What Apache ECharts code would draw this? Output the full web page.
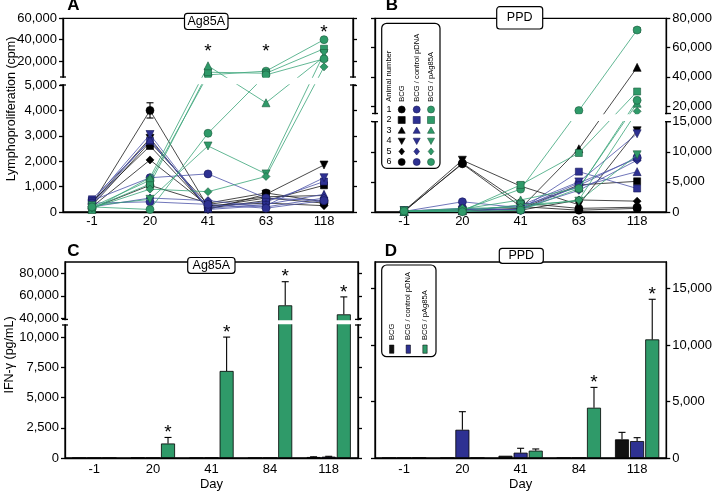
<!DOCTYPE html>
<html>
<head>
<meta charset="utf-8">
<script src="https://cdn.jsdelivr.net/npm/echarts@6.0.0/dist/echarts.min.js"></script>
<style>
html,body{margin:0;padding:0;background:#ffffff;}
#chart{width:715px;height:493px;}
</style>
</head>
<body>
<div id="chart"></div>
<script>
// ================= DATA =================
const lpDays = ['-1', '20', '41', '63', '118'];
const ifnDays = ['-1', '20', '41', '84', '118'];
const groupNames = ['BCG', 'BCG / control pDNA', 'BCG / pAg85A'];
const animalNumbers = ['1', '2', '3', '4', '5', '6'];

// Panel A – Ag85A lymphoproliferation (cpm); one row per animal, columns = lpDays
const lpAg85A_BCG = [
  [300, 4000, 200, 550, 350],
  [400, 2600, 150, 450, 1050],
  [250, 2750, 300, 600, 650],
  [350, 2900, 100, 700, 1850],
  [200, 2050, 250, 350, 250],
  [150, 1050, 350, 750, 400]
];
const lpAg85A_ctrl = [
  [450, 1350, 1500, 550, 450],
  [500, 2800, 200, 400, 1200],
  [300, 2850, 150, 300, 700],
  [400, 3050, 100, 250, 1350],
  [200, 550, 450, 200, 550],
  [350, 400, 300, 150, 450]
];
const lpAg85A_pAg = [
  [200, 1250, 7000, 10500, 40000],
  [150, 1100, 9500, 8500, 31500],
  [100, 1350, 15500, 4300, 24000],
  [250, 500, 2600, 1500, 27000],
  [150, 900, 800, 1400, 14500],
  [200, 100, 3100, 7000, 22000]
];

// Panel B – PPD lymphoproliferation (cpm)
const lpPPD_BCG = [
  [100, 8100, 1500, 600, 800],
  [150, 300, 500, 4500, 5100],
  [100, 200, 600, 10500, 46500],
  [200, 8600, 4300, 1200, 13500],
  [100, 400, 300, 2000, 1800],
  [150, 8000, 900, 300, 600]
];
const lpPPD_ctrl = [
  [100, 1700, 700, 4800, 8900],
  [150, 500, 400, 6700, 3900],
  [100, 300, 900, 4200, 6700],
  [200, 200, 1100, 5000, 13000],
  [100, 100, 500, 3600, 8600],
  [150, 600, 300, 4400, 9100]
];
const lpPPD_pAg = [
  [100, 300, 3800, 17000, 72000],
  [150, 200, 4500, 9800, 30000],
  [100, 500, 2000, 4000, 22000],
  [200, 100, 1200, 1800, 9500],
  [100, 600, 800, 2000, 16500],
  [150, 50, 300, 3900, 24000]
];

// error bars on individual points: [group, animal, dayIndex, sd]
const lpAg85A_err = [[0, 0, 1, 300]];
const lpPPD_err = [[2, 0, 4, 1500]];

// Panel C – IFN-gamma Ag85A (pg/mL), mean and SD per group, columns = ifnDays
const ifnAg85A_BCG = [0, 30, 0, 0, 80];
const ifnAg85A_BCG_sd = [0, 0, 0, 0, 20];
const ifnAg85A_ctrl = [0, 0, 20, 0, 110];
const ifnAg85A_ctrl_sd = [0, 0, 0, 0, 30];
const ifnAg85A_pAg = [0, 1200, 7200, 51500, 43500];
const ifnAg85A_pAg_sd = [0, 500, 2800, 21000, 15500];
const ifnAg85A_star = [0, 1, 1, 1, 1]; // pAg85A significant

// Panel D – IFN-gamma PPD (pg/mL)
const ifnPPD_BCG = [0, 0, 200, 0, 1650];
const ifnPPD_BCG_sd = [0, 0, 0, 0, 620];
const ifnPPD_ctrl = [0, 2500, 470, 0, 1500];
const ifnPPD_ctrl_sd = [0, 1600, 390, 0, 300];
const ifnPPD_pAg = [20, 0, 650, 4450, 10500];
const ifnPPD_pAg_sd = [0, 0, 150, 1800, 3550];
const ifnPPD_star = [0, 0, 0, 1, 1];

// significance stars in panel A: [dayIndex, anchor value]
const lpAg85A_stars = [[2, 28400], [3, 28400], [4, 46700]];

// tick labels
const ticksA = [0, 1000, 2000, 3000, 4000, 5000, 20000, 40000, 60000];
const ticksB = [0, 5000, 10000, 15000, 20000, 40000, 60000, 80000];
const ticksC = [0, 2500, 5000, 7500, 10000, 40000, 60000, 80000];
const ticksD = [0, 5000, 10000, 15000];

// ================= STYLE / LAYOUT =================
const FONT = "'Liberation Sans', Arial, Helvetica, sans-serif";
const MARK = ['#000000', '#2e3192', '#2f9a69'];
const MARK_BORDER = ['#000000', '#15175a', '#1b5a3c'];
const LINE = ['#1a1a1a', '#4b53a8', '#3aa578'];
const BAR = ['#111111', '#2e3192', '#2f9a69'];
const SYM = ['circle', 'rect', 'triangle', 'triangle', 'diamond', 'circle'];
const SYM_SIZE = [8, 7, 8, 8, 8, 8];
const SYM_ROT = [0, 0, 0, 180, 0, 0];

const gA = {left: 63, top: 18.3, width: 290, height: 193.7};
const gB = {left: 375, top: 18.3, width: 293, height: 193.7};
const gC = {left: 65, top: 262, width: 293, height: 196};
const gD = {left: 375, top: 262, width: 297, height: 196};

// piecewise (broken) axis transform, in pixel units
function brk(lowMax, lowPx, gapPx, upMin, upMax, upPx) {
  const f = v => v <= lowMax ? v / lowMax * lowPx : lowPx + gapPx + (v - upMin) / (upMax - upMin) * upPx;
  f.lowPx = lowPx; f.gapPx = gapPx; f.total = lowPx + gapPx + upPx;
  return f;
}
const sA = brk(5000, 127, 8, 5000, 60000, 58.7);
const sB = brk(15000, 90.3, 8.2, 15000, 80000, 95.2);
const sC = brk(11000, 133, 5.6, 39000, 90000, 57.4);
const sD = v => v; sD.total = 17350;

function yPair(gridIndex, f, ticks, labelSide) {
  const vals = ticks.map(f);
  const lab = {};
  ticks.forEach((t, i) => { lab[vals[i].toFixed(2)] = t.toLocaleString('en-US'); });
  return ['left', 'right'].map(pos => ({
    type: 'value', gridIndex, position: pos, min: 0, max: f.total,
    splitLine: {show: false},
    axisLine: {show: true, lineStyle: {color: '#000', width: 1.3}},
    axisTick: {show: true, length: 4, inside: false, customValues: vals.slice(), lineStyle: {color: '#000', width: 1.3}},
    axisLabel: {show: pos === labelSide, customValues: vals.slice(), margin: 6, color: '#000', fontSize: 13, fontFamily: FONT,
      formatter: v => lab[Number(v).toFixed(2)] || ''}
  }));
}
function xAx(gridIndex, cats, margin, name) {
  return {
    type: 'category', gridIndex, data: cats, boundaryGap: true,
    axisLine: {show: true, lineStyle: {color: '#000', width: 1.3}},
    axisTick: {show: false},
    axisLabel: {color: '#000', fontSize: 13, fontFamily: FONT, margin},
    name: name || '', nameLocation: 'middle', nameGap: 20,
    nameTextStyle: {color: '#000', fontSize: 13, fontFamily: FONT}
  };
}

const series = [];
function addLP(groups, xi, yi, f) {
  groups.forEach((grp, g) => grp.forEach((vals, a) => {
    series.push({
      type: 'line', xAxisIndex: xi, yAxisIndex: yi, name: groupNames[g] + ' ' + animalNumbers[a],
      data: vals.map(f), symbol: SYM[a], symbolSize: SYM_SIZE[a], symbolRotate: SYM_ROT[a],
      showAllSymbol: true, z: 3 + g,
      lineStyle: {color: LINE[g], width: 0.8},
      itemStyle: {color: MARK[g], borderColor: MARK_BORDER[g], borderWidth: 0.6},
      emphasis: {disabled: true}
    });
  }));
}
function addPointErr(groups, errs, xi, yi, f) {
  series.push({
    type: 'custom', xAxisIndex: xi, yAxisIndex: yi, z: 2,
    data: errs.map(e => { const v = groups[e[0]][e[1]][e[3 - 1]]; return [e[2], f(v - e[3]), f(v + e[3])]; }),
    renderItem: (p, api) => {
      const lo = api.coord([api.value(0), api.value(1)]);
      const hi = api.coord([api.value(0), api.value(2)]);
      const st = {stroke: '#000', lineWidth: 1.1};
      return {type: 'group', children: [
        {type: 'line', shape: {x1: lo[0], y1: lo[1], x2: hi[0], y2: hi[1]}, style: st},
        {type: 'line', shape: {x1: hi[0] - 3.5, y1: hi[1], x2: hi[0] + 3.5, y2: hi[1]}, style: st},
        {type: 'line', shape: {x1: lo[0] - 3.5, y1: lo[1], x2: lo[0] + 3.5, y2: lo[1]}, style: st}
      ]};
    }
  });
}
function starText(x, y) {
  return {type: 'text', x, y, style: {text: '*', fontSize: 19, fontFamily: FONT, fill: '#000', textAlign: 'center', textVerticalAlign: 'middle'}};
}

addLP([lpAg85A_BCG, lpAg85A_ctrl, lpAg85A_pAg], 0, 0, sA);
addLP([lpPPD_BCG, lpPPD_ctrl, lpPPD_pAg], 1, 3, sB);
// fix error lookup (value at day)
series.length = series.length; 
function addErrLP(groups, errs, xi, yi, f) {
  series.push({
    type: 'custom', xAxisIndex: xi, yAxisIndex: yi, z: 2,
    data: errs.map(e => { const v = groups[e[0]][e[1]][e[2]]; return [e[2], f(v - e[3]), f(v + e[3])]; }),
    renderItem: (p, api) => {
      const lo = api.coord([api.value(0), api.value(1)]);
      const hi = api.coord([api.value(0), api.value(2)]);
      const st = {stroke: '#000', lineWidth: 1.1};
      return {type: 'group', children: [
        {type: 'line', shape: {x1: lo[0], y1: lo[1], x2: hi[0], y2: hi[1]}, style: st},
        {type: 'line', shape: {x1: hi[0] - 3.5, y1: hi[1], x2: hi[0] + 3.5, y2: hi[1]}, style: st},
        {type: 'line', shape: {x1: lo[0] - 3.5, y1: lo[1], x2: lo[0] + 3.5, y2: lo[1]}, style: st}
      ]};
    }
  });
}
addErrLP([lpAg85A_BCG, lpAg85A_ctrl, lpAg85A_pAg], lpAg85A_err, 0, 0, sA);
addErrLP([lpPPD_BCG, lpPPD_ctrl, lpPPD_pAg], lpPPD_err, 1, 3, sB);

// stars panel A
series.push({
  type: 'custom', xAxisIndex: 0, yAxisIndex: 0, z: 6,
  data: lpAg85A_stars.map(s => [s[0], sA(s[1])]),
  renderItem: (p, api) => { const c = api.coord([api.value(0), api.value(1)]); return starText(c[0], c[1]); }
});

// bars
const BAR_W = 14, BAR_GAP = '8%', BAR_STEP = 14 * 1.08;
function addBars(means, sds, stars, xi, yi, f) {
  means.forEach((m, g) => series.push({
    type: 'bar', xAxisIndex: xi, yAxisIndex: yi, name: groupNames[g],
    data: m.map(f), barWidth: BAR_W, barGap: BAR_GAP,
    itemStyle: {color: BAR[g], borderColor: '#000', borderWidth: 0.8},
    emphasis: {disabled: true}
  }));
  const rows = [];
  means.forEach((m, g) => m.forEach((v, d) => {
    if (sds[g][d] > 0) rows.push([d, f(v), f(v + sds[g][d]), g, g === 2 ? stars[d] : 0]);
  }));
  series.push({
    type: 'custom', xAxisIndex: xi, yAxisIndex: yi, z: 5, data: rows,
    renderItem: (p, api) => {
      const b = api.coord([api.value(0), api.value(1)]);
      const t = api.coord([api.value(0), api.value(2)]);
      const x = b[0] + (api.value(3) - 1) * BAR_STEP;
      const st = {stroke: '#000', lineWidth: 1.1};
      const ch = [
        {type: 'line', shape: {x1: x, y1: b[1], x2: x, y2: t[1]}, style: st},
        {type: 'line', shape: {x1: x - 3.5, y1: t[1], x2: x + 3.5, y2: t[1]}, style: st}
      ];
      if (api.value(4)) ch.push(starText(x, t[1] - 4.5));
      return {type: 'group', children: ch};
    }
  });
}
addBars([ifnAg85A_BCG, ifnAg85A_ctrl, ifnAg85A_pAg], [ifnAg85A_BCG_sd, ifnAg85A_ctrl_sd, ifnAg85A_pAg_sd], ifnAg85A_star, 2, 4, sC);
addBars([ifnPPD_BCG, ifnPPD_ctrl, ifnPPD_pAg], [ifnPPD_BCG_sd, ifnPPD_ctrl_sd, ifnPPD_pAg_sd], ifnPPD_star, 3, 7, sD);

// ================= GRAPHICS (frames, breaks, boxes, legends) =================
const gfx = [];
function breakG(grid, f) {
  const bottom = grid.top + grid.height;
  const yLow = bottom - f.lowPx, yUp = yLow - f.gapPx;
  gfx.push({type: 'rect', z: 100, silent: true, shape: {x: grid.left - 2.5, y: yUp + 0.8, width: grid.width + 5, height: f.gapPx - 1.6}, style: {fill: '#fff'}});
  [grid.left, grid.left + grid.width].forEach(x => [yLow, yUp].forEach(y =>
    gfx.push({type: 'line', z: 101, silent: true, shape: {x1: x - 3, y1: y, x2: x + 3, y2: y}, style: {stroke: '#000', lineWidth: 1.3}})));
}
breakG(gA, sA); breakG(gB, sB); breakG(gC, sC);

function tbox(x0, y0, w, h, text) {
  gfx.push({type: 'rect', z: 110, silent: true, shape: {x: x0, y: y0, width: w, height: h, r: 3}, style: {fill: '#fff', stroke: '#000', lineWidth: 1.2}});
  gfx.push({type: 'text', z: 111, silent: true, x: x0 + w / 2, y: y0 + h / 2, style: {text, fontSize: 12.5, fontFamily: FONT, fill: '#000', textAlign: 'center', textVerticalAlign: 'middle'}});
}
tbox(184.5, 13.3, 43.5, 16.2, 'Ag85A');
tbox(496.7, 6.7, 46, 22.3, 'PPD');
tbox(187.7, 257.5, 47.3, 15.8, 'Ag85A');
tbox(499.3, 248.3, 44, 15, 'PPD');

function txt(x, y, text, size, opts) {
  gfx.push(Object.assign({type: 'text', z: 112, silent: true, x, y,
    style: Object.assign({text, fontSize: size, fontFamily: FONT, fill: '#000', textAlign: 'center', textVerticalAlign: 'middle'}, (opts && opts.style) || {})},
    (opts && opts.el) || {}));
}
// panel letters
txt(73.5, 5.8, 'A', 17, {style: {fontWeight: 'bold'}});
txt(392, 5.5, 'B', 17, {style: {fontWeight: 'bold'}});
txt(73.3, 251, 'C', 17, {style: {fontWeight: 'bold'}});
txt(391, 251, 'D', 17, {style: {fontWeight: 'bold'}});
// y axis titles
txt(12, 109, 'Lymphoproliferation (cpm)', 12.5, {el: {rotation: Math.PI / 2}});
txt(10, 355, 'IFN-\u03b3 (pg/mL)', 12.5, {el: {rotation: Math.PI / 2}});

// legend B (symbols per animal)
gfx.push({type: 'rect', z: 110, silent: true, shape: {x: 381.7, y: 23.3, width: 58.3, height: 145, r: 5}, style: {fill: '#fff', stroke: '#000', lineWidth: 1.2}});
const legCols = [401.7, 416.7, 431];
txt(389, 101.7, 'Animal number', 7.6, {el: {rotation: Math.PI / 2}, style: {textAlign: 'left'}});
groupNames.forEach((n, g) => txt(legCols[g], 101.7, n, 7.6, {el: {rotation: Math.PI / 2}, style: {textAlign: 'left'}}));
const legRows = [109.5, 120, 130.5, 141, 151.5, 162];
function legSym(kind, cx, cy, r, g) {
  const style = {fill: MARK[g], stroke: MARK_BORDER[g], lineWidth: 0.6};
  let el;
  if (kind === 1) el = {type: 'rect', shape: {x: cx - r, y: cy - r, width: 2 * r, height: 2 * r}};
  else if (kind === 2) el = {type: 'polygon', shape: {points: [[cx, cy - r], [cx + r, cy + r * 0.8], [cx - r, cy + r * 0.8]]}};
  else if (kind === 3) el = {type: 'polygon', shape: {points: [[cx, cy + r], [cx + r, cy - r * 0.8], [cx - r, cy - r * 0.8]]}};
  else if (kind === 4) el = {type: 'polygon', shape: {points: [[cx, cy - r], [cx + r * 0.8, cy], [cx, cy + r], [cx - r * 0.8, cy]]}};
  else el = {type: 'circle', shape: {cx, cy, r}};
  el.style = style; el.z = 112; el.silent = true;
  gfx.push(el);
}
animalNumbers.forEach((num, a) => {
  txt(389, legRows[a], num, 9);
  legCols.forEach((cx, g) => legSym(a, cx, legRows[a], 3.5, g));
});

// legend D (bar colours)
gfx.push({type: 'rect', z: 110, silent: true, shape: {x: 381.7, y: 265, width: 54.3, height: 91.7, r: 5}, style: {fill: '#fff', stroke: '#000', lineWidth: 1.2}});
const legColsD = [391.7, 408.3, 425];
groupNames.forEach((n, g) => {
  txt(legColsD[g], 340, n, 7.6, {el: {rotation: Math.PI / 2}, style: {textAlign: 'left'}});
  gfx.push({type: 'rect', z: 112, silent: true, shape: {x: legColsD[g] - 2.2, y: 345, width: 4.4, height: 8.3}, style: {fill: BAR[g], stroke: '#000', lineWidth: 0.5}});
});

// ================= OPTION =================
const gridStyle = {show: true, borderColor: '#000', borderWidth: 1.3, backgroundColor: 'transparent'};
const option = {
  animation: false,
  backgroundColor: '#ffffff',
  textStyle: {fontFamily: FONT},
  grid: [gA, gB, gC, gD].map(g => Object.assign({containLabel: false}, gridStyle, g)),
  xAxis: [xAx(0, lpDays, 3), xAx(1, lpDays, 3), xAx(2, ifnDays, 5, 'Day'), xAx(3, ifnDays, 5, 'Day')],
  yAxis: [].concat(yPair(0, sA, ticksA, 'left'), yPair(1, sB, ticksB, 'right'), yPair(2, sC, ticksC, 'left'), yPair(3, sD, ticksD, 'right')),
  series,
  graphic: {elements: gfx}
};
const chart = echarts.init(document.getElementById('chart'), null, {renderer: 'canvas'});
chart.setOption(option);
</script>
</body>
</html>
